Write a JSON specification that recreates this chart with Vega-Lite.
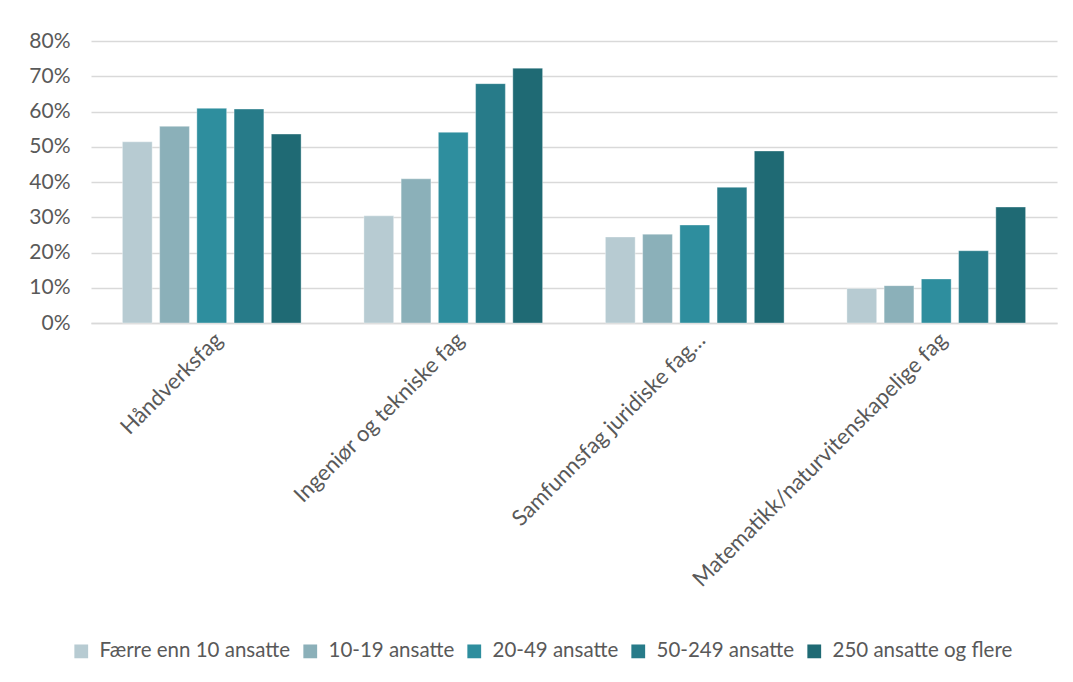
{
  "$schema": "https://vega.github.io/schema/vega-lite/v6.json",
  "autosize": {"type": "none"},
  "padding": {"left": 91, "top": 41, "right": 16, "bottom": 359},
  "width": 966,
  "height": 282,
  "background": "white",
  "config": {
    "font": "Lato",
    "view": {"stroke": null}
  },
  "data": {
    "values": [
      {"fag": "Håndverksfag", "gruppe": "Færre enn 10 ansatte", "andel": 0.514},
      {"fag": "Håndverksfag", "gruppe": "10-19 ansatte", "andel": 0.558},
      {"fag": "Håndverksfag", "gruppe": "20-49 ansatte", "andel": 0.609},
      {"fag": "Håndverksfag", "gruppe": "50-249 ansatte", "andel": 0.607},
      {"fag": "Håndverksfag", "gruppe": "250 ansatte og flere", "andel": 0.536},
      {"fag": "Ingeniør og tekniske fag", "gruppe": "Færre enn 10 ansatte", "andel": 0.304},
      {"fag": "Ingeniør og tekniske fag", "gruppe": "10-19 ansatte", "andel": 0.409},
      {"fag": "Ingeniør og tekniske fag", "gruppe": "20-49 ansatte", "andel": 0.541},
      {"fag": "Ingeniør og tekniske fag", "gruppe": "50-249 ansatte", "andel": 0.679},
      {"fag": "Ingeniør og tekniske fag", "gruppe": "250 ansatte og flere", "andel": 0.723},
      {"fag": "Samfunnsfag juridiske fag…", "gruppe": "Færre enn 10 ansatte", "andel": 0.244},
      {"fag": "Samfunnsfag juridiske fag…", "gruppe": "10-19 ansatte", "andel": 0.252},
      {"fag": "Samfunnsfag juridiske fag…", "gruppe": "20-49 ansatte", "andel": 0.278},
      {"fag": "Samfunnsfag juridiske fag…", "gruppe": "50-249 ansatte", "andel": 0.385},
      {"fag": "Samfunnsfag juridiske fag…", "gruppe": "250 ansatte og flere", "andel": 0.488},
      {"fag": "Matematikk/naturvitenskapelige fag", "gruppe": "Færre enn 10 ansatte", "andel": 0.098},
      {"fag": "Matematikk/naturvitenskapelige fag", "gruppe": "10-19 ansatte", "andel": 0.106},
      {"fag": "Matematikk/naturvitenskapelige fag", "gruppe": "20-49 ansatte", "andel": 0.125},
      {"fag": "Matematikk/naturvitenskapelige fag", "gruppe": "50-249 ansatte", "andel": 0.205},
      {"fag": "Matematikk/naturvitenskapelige fag", "gruppe": "250 ansatte og flere", "andel": 0.329}
    ]
  },
  "mark": {"type": "bar", "stroke": "#ffffff", "strokeOpacity": 0.35, "strokeWidth": 1},
  "encoding": {
    "x": {
      "field": "fag",
      "type": "nominal",
      "sort": null,
      "title": null,
      "scale": {"paddingInner": 0.26, "paddingOuter": 0.13},
      "axis": {
        "labelAngle": -45,
        "labelFontSize": 22,
        "labelColor": "#595959",
        "ticks": false,
        "domainColor": "#d9d9d9",
        "domainWidth": 1.5,
        "labelPadding": 6,
        "labelLimit": 500,
        "labelOverlap": false
      }
    },
    "xOffset": {
      "field": "gruppe",
      "type": "nominal",
      "sort": ["Færre enn 10 ansatte", "10-19 ansatte", "20-49 ansatte", "50-249 ansatte", "250 ansatte og flere"],
      "scale": {"paddingInner": 0.2, "paddingOuter": 0}
    },
    "y": {
      "field": "andel",
      "type": "quantitative",
      "title": null,
      "scale": {"domain": [0, 0.8]},
      "axis": {
        "format": ".0%",
        "values": [0, 0.1, 0.2, 0.3, 0.4, 0.5, 0.6, 0.7, 0.8],
        "labelOverlap": false,
        "domain": false,
        "ticks": false,
        "labelFontSize": 21,
        "labelColor": "#595959",
        "labelPadding": 21,
        "gridColor": "#d9d9d9",
        "gridWidth": 1.5
      }
    },
    "color": {
      "field": "gruppe",
      "type": "nominal",
      "sort": ["Færre enn 10 ansatte", "10-19 ansatte", "20-49 ansatte", "50-249 ansatte", "250 ansatte og flere"],
      "scale": {"range": ["#b7cbd2", "#8bb0b9", "#2e8e9e", "#277b89", "#1f6a74"]},
      "legend": {
        "title": null,
        "orient": "none",
        "direction": "horizontal",
        "legendX": -20,
        "legendY": 600,
        "symbolType": "square",
        "symbolSize": 190,
        "symbolStrokeWidth": 0,
        "labelFontSize": 20.5,
        "labelColor": "#595959",
        "labelOffset": 8,
        "columnPadding": 9,
        "labelLimit": 500
      }
    }
  }
}
